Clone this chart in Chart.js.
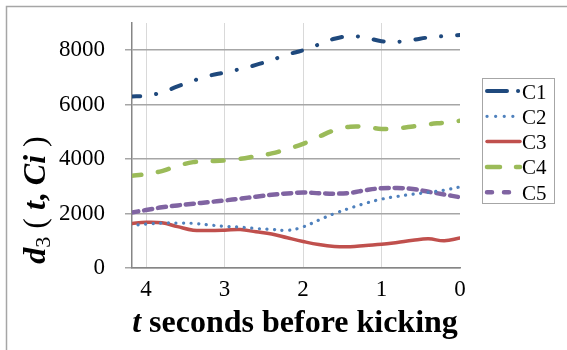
<!DOCTYPE html>
<html>
<head>
<meta charset="utf-8">
<script src="https://cdn.jsdelivr.net/npm/chart.js@4"></script>
<style>
  html, body { margin: 0; padding: 0; background: #fff; }
  canvas { display: block; }
</style>
</head>
<body>
<canvas id="chart" width="567" height="350"></canvas>
<script>
// time axis: seconds before kicking
const times = [4.2, 4.0, 3.8, 3.6, 3.4, 3.2, 3.0, 2.8, 2.6, 2.4, 2.2, 2.0, 1.8, 1.6, 1.4, 1.2, 1.0, 0.8, 0.6, 0.4, 0.2, 0.0];

const c1 = [6300, 6330, 6450, 6670, 6880, 7060, 7180, 7310, 7460, 7640, 7840, 8000, 8210, 8420, 8520, 8460, 8330, 8310, 8380, 8470, 8520, 8560];
const c2 = [1560, 1610, 1650, 1650, 1640, 1580, 1530, 1500, 1450, 1420, 1380, 1510, 1760, 2000, 2200, 2380, 2530, 2630, 2710, 2780, 2860, 2980];
const c3 = [1630, 1680, 1660, 1520, 1390, 1380, 1390, 1410, 1330, 1250, 1110, 975, 860, 790, 780, 830, 870, 940, 1020, 1070, 1000, 1100];
const c4 = [3380, 3450, 3560, 3750, 3890, 3920, 3950, 4010, 4110, 4210, 4370, 4560, 4820, 5060, 5190, 5180, 5110, 5130, 5200, 5280, 5340, 5410];
const c5 = [2030, 2130, 2230, 2300, 2360, 2420, 2480, 2550, 2620, 2690, 2740, 2770, 2750, 2730, 2760, 2860, 2930, 2940, 2900, 2800, 2700, 2600];

const xTicks = [4, 3, 2, 1, 0];
const yTicks = [0, 2000, 4000, 6000, 8000];

const SERIF = "'Liberation Serif', 'Times New Roman', serif";

const seriesStyle = [
    { label: 'C1', data: c1, color: '#1F497D', width: 4, dash: [10, 16, 0.1, 16], legendDash: [20, 11, 0.1, 100] },
    { label: 'C2', data: c2, color: '#4F81BD', width: 3.2, dash: [0.1, 7.5], legendDash: [0.1, 8.5] },
    { label: 'C3', data: c3, color: '#C0504D', width: 3.5, dash: [], legendDash: [] },
    { label: 'C4', data: c4, color: '#9BBB59', width: 4.5, dash: [11, 17], legendDash: [13, 16] },
    { label: 'C5', data: c5, color: '#8064A2', width: 4.5, dash: [8, 6], legendDash: [5, 12] }
];

// white background + cropped outer frame
const framePlugin = {
    id: 'frame',
    beforeDraw(chart) {
        const ctx = chart.ctx;
        ctx.save();
        ctx.fillStyle = '#fff';
        ctx.fillRect(0, 0, chart.width, chart.height);
        ctx.strokeStyle = '#a6a6a6';
        ctx.lineWidth = 1.5;
        ctx.beginPath();
        ctx.moveTo(6.5, chart.height);
        ctx.lineTo(6.5, 6.5);
        ctx.lineTo(chart.width, 6.5);
        ctx.stroke();
        ctx.restore();
    }
};

// draw a run of text pieces with mixed fonts
function drawRuns(ctx, runs, x, y) {
    let total = 0;
    runs.forEach(r => { ctx.font = r.font; r.w = ctx.measureText(r.text).width; total += r.w; });
    let cx = x - total / 2;
    runs.forEach(r => {
        ctx.font = r.font;
        ctx.fillText(r.text, cx, y + (r.dy || 0));
        cx += r.w;
    });
}

const titlesPlugin = {
    id: 'titles',
    afterDraw(chart) {
        const ctx = chart.ctx;
        ctx.save();
        ctx.fillStyle = '#000';
        ctx.textBaseline = 'alphabetic';
        ctx.textAlign = 'left';

        // x title
        drawRuns(ctx, [
            { text: 't', font: `italic bold 32px ${SERIF}` },
            { text: ' seconds before kicking', font: `bold 32px ${SERIF}` }
        ], 295, 332);

        // y title, rotated
        ctx.translate(45, 200);
        ctx.rotate(-Math.PI / 2);
        drawRuns(ctx, [
            { text: 'd', font: `italic bold 32px ${SERIF}` },
            { text: '3', font: `22px ${SERIF}`, dy: 5 },
            { text: ' ( ', font: `32px ${SERIF}` },
            { text: 't', font: `italic bold 32px ${SERIF}` },
            { text: ', ', font: `bold 32px ${SERIF}` },
            { text: 'Ci', font: `italic bold 32px ${SERIF}` },
            { text: ' )', font: `32px ${SERIF}` }
        ], 0, 0);
        ctx.restore();
    }
};

const legendPlugin = {
    id: 'sideLegend',
    afterDraw(chart) {
        const ctx = chart.ctx;
        ctx.save();
        ctx.strokeStyle = '#a6a6a6';
        ctx.lineWidth = 1;
        ctx.strokeRect(482.5, 78.5, 72, 125);
        ctx.font = `21px ${SERIF}`;
        ctx.fillStyle = '#000';
        ctx.textBaseline = 'middle';
        seriesStyle.forEach((s, i) => {
            const y = 91 + i * 25.3;
            ctx.strokeStyle = s.color;
            ctx.lineWidth = s.width;
            ctx.lineCap = 'round';
            ctx.setLineDash(s.legendDash);
            ctx.beginPath();
            ctx.moveTo(487, y);
            ctx.lineTo(520, y);
            ctx.stroke();
            ctx.setLineDash([]);
            ctx.fillText(s.label, 522, y + 2);
        });
        ctx.restore();
    }
};

new Chart(document.getElementById('chart'), {
    type: 'line',
    data: {
        datasets: seriesStyle.map(s => ({
            label: s.label,
            data: times.map((t, i) => ({ x: t, y: s.data[i] })),
            borderColor: s.color,
            borderWidth: s.width,
            borderDash: s.dash,
            borderCapStyle: 'round',
            pointRadius: 0,
            tension: 0.4,
            fill: false
        }))
    },
    options: {
        responsive: false,
        animation: false,
        devicePixelRatio: 1,
        layout: { padding: { top: 23, right: 107, left: 0, bottom: 0 } },
        plugins: {
            legend: { display: false },
            tooltip: { enabled: false }
        },
        scales: {
            x: {
                type: 'linear',
                reverse: true,
                min: 0,
                max: 4.18,
                afterBuildTicks: scale => { scale.ticks = xTicks.map(v => ({ value: v })); },
                afterFit: scale => { scale.height = 82; },
                ticks: {
                    color: '#000',
                    font: { family: SERIF, size: 23 },
                    padding: 8,
                    maxRotation: 0
                },
                grid: {
                    color: ctx => (ctx.tick && ctx.tick.value === 0) ? 'rgba(0,0,0,0)' : '#d9d9d9',
                    drawTicks: false
                },
                border: { color: '#868686', width: 1.5 }
            },
            y: {
                min: 0,
                max: 9000,
                afterBuildTicks: scale => { scale.ticks = yTicks.map(v => ({ value: v })); },
                afterFit: scale => {
                    scale.width = 132;
                    scale.paddingTop = 0;
                },
                ticks: {
                    color: '#000',
                    font: { family: SERIF, size: 23 },
                    padding: 20,
                    callback: v => String(v)
                },
                grid: {
                    color: '#a6a6a6',
                    lineWidth: 1.5,
                    tickLength: 7
                },
                border: { color: '#868686', width: 1.5 }
            }
        }
    },
    plugins: [framePlugin, titlesPlugin, legendPlugin]
});
</script>
</body>
</html>
